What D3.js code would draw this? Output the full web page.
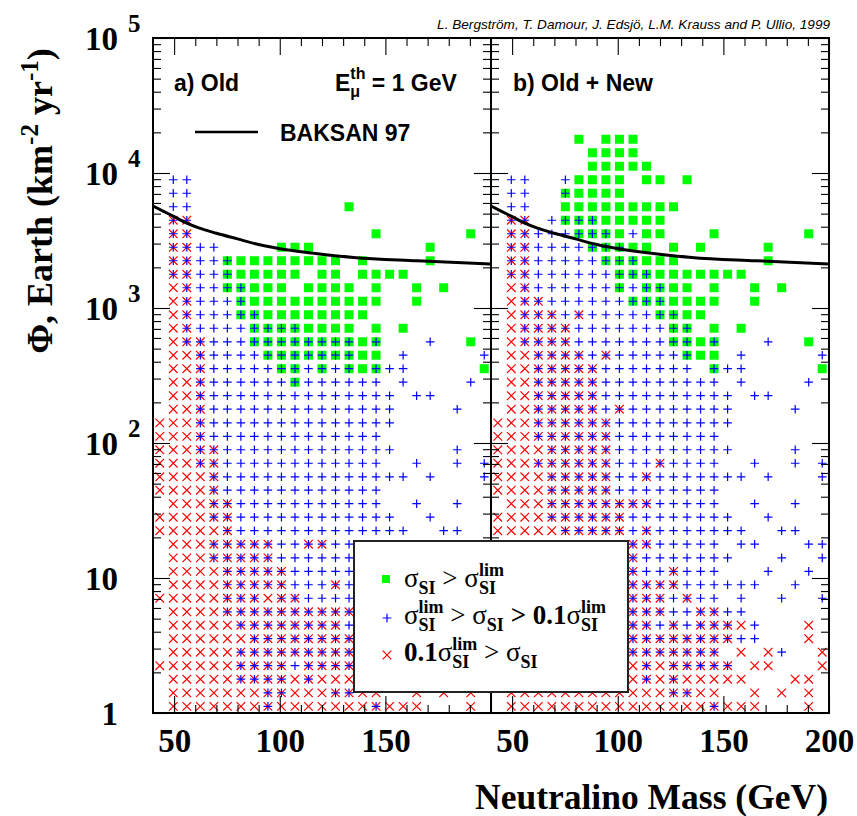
<!DOCTYPE html>
<html lang="en">
<head>
<meta charset="utf-8">
<title>Neutralino flux from the Earth</title>
<script src="https://d3js.org/d3.v7.min.js"></script>
<style>
body { margin: 0; background: #fff; }
text { white-space: pre; }
</style>
</head>
<body>
<div id="chart"></div>
<script>

// mass bin centres (GeV), one per grid column
var massBins = [43.2, 49.6, 56.0, 62.4, 68.8, 75.2, 81.6, 88.0, 94.4, 100.8, 107.2, 113.6, 120.0,
  126.4, 132.8, 139.2, 145.6, 152.0, 158.4, 164.8, 171.2, 177.6, 184.0, 190.4, 196.8];

// flux bin centres (km^-2 yr^-1), bottom row first
var fluxBins = [1.12, 1.41, 1.78, 2.24, 2.82, 3.55, 4.47, 5.62, 7.08, 8.91,
  11.2, 14.1, 17.8, 22.4, 28.2, 35.5, 44.7, 56.2, 70.8, 89.1,
  112, 141, 178, 224, 282, 355, 447, 562, 708, 891,
  1122, 1413, 1778, 2239, 2818, 3548, 4467, 5623, 7079, 8913,
  11220, 14125, 17783];

// grid rows, top row first
// . none, g green, G green + blue, + blue, x red, * red + blue
var oldRows = [
  ".........................",
  ".........................",
  ".........................",
  ".++......................",
  ".++......................",
  ".++...........g..........",
  ".**......................",
  ".**.............g......g.",
  ".**++....ggg........g....",
  ".**++Ggggggggg.g....g....",
  ".**++Gggggg.gg.gggg......",
  ".x*++GGggg.gggg.g..g.g...",
  ".x*+++Ggggggggggg..g.....",
  ".x*+++GGgggggggg.........",
  ".x*++++GGGGgggg.g.g......",
  ".x**+++GGGGGGGGgG...+..g.",
  ".xx*++++GGGGGGGgg.+.....+",
  ".xx*+++++GG+G+GgG++.....g",
  ".xx*++++++G++++++.+....+.",
  ".xx*++++++++++++++.++....",
  ".xx*++++++++++++++....+..",
  "xxx*++++++++++++++.......",
  "xxx*+++++++++++++........",
  "xxx**+++++++++++++....+..",
  "xxx**++++++++++++..+..+.+",
  "xxxx*++++++++++++++.+...+",
  "xxxx*++++++++++++........",
  ".xxx**+++++++++++..+..+..",
  "xxxx**++++++++++++..+....",
  "xxxxx*+++++++++++++..++..",
  ".xxx*****++**++..........",
  ".xxx*****++++++..........",
  ".xxxx*****+++++..........",
  ".xxxx*****+++*+..........",
  "xxxxx***x**++++..........",
  ".xxxx**********..........",
  ".xxxxx********+..........",
  ".xxxxxx********..........",
  ".xxxxx*********..........",
  "xxxxxx****+****..........",
  ".xxxxx****x*xxx..........",
  ".xxxxxxx**xxx**xx..x.x.x.",
  ".xxxxxxx*xxxxxxx*xxx...x."
];

var newRows = [
  "......g.ggg..............",
  ".......gggg..............",
  ".......ggggg.............",
  ".++..+gggg.gg.g..........",
  ".++..Ggggg...............",
  ".++..ggggggggg...........",
  ".**.+GGGggggg............",
  ".**+++GGGg+gg...g......g.",
  ".**++++GGGgg.g.g....g....",
  ".**+++++GGGggg......g....",
  ".**++++++GGGggggggg......",
  ".x*++++++G+GGgg.g..g.g...",
  ".x**++++++GGGgggg..g.....",
  ".x***+*+++++GGgg.........",
  ".x****+++++++GG.g.g......",
  ".x****+++++++GGgG...+..g.",
  ".xx****+*+++++Ggg.+.....+",
  ".xx*****+++++++.G++.....g",
  ".xx*****+++++++++.+....+.",
  ".xx*****++++++++++.++....",
  ".xx*****+*++++++++....+..",
  "xxx******+++++++++.......",
  "xxx******++++++++........",
  "xxxx*****+++++++++....+..",
  "xxx******+++*++++..+..+.+",
  "xxxx*****++*+++++++.+...+",
  "xxxx*****++++++++........",
  ".xxx********+++++..+..+..",
  "xxxx******++++++++..+....",
  "xxxxx*****+*+++++++..++..",
  "..........**+++++.++...++",
  "..........*+++++++...+..+",
  "..........*++*+++...+..+.",
  "..........****++++++..+..",
  "..........***+*++.+..+..+",
  "..........***++**++......",
  "..........**+*+***x+...x.",
  "..........********++...x.",
  "..........*******.x.x+..x",
  "..........x*x*****.xx...x",
  "..........x*x*xxxxx...xx.",
  ".xxxxxxxxxxxx**xx..x.x.x.",
  ".xxxxxxxxxxxxxxx*xxx...x."
];

// BAKSAN 97 limit
var baksanMass = [40, 45, 50, 56, 62, 70, 80, 90, 100, 115, 135, 165, 200];
var baksanFlux = [5700, 5200, 4750, 4250, 3900, 3580, 3250, 2950, 2750, 2560, 2370, 2240, 2120];

var xMajorA = [50, 100, 150];
var xMajorB = [50, 100, 150, 200];
var xMajorAll = [50, 100, 150, 200];
var xMinor = [60, 70, 80, 90, 110, 120, 130, 140, 160, 170, 180, 190];
var yDecades = [1, 10, 100, 1000, 10000, 100000];
var yBase = ["1", "10", "10", "10", "10", "10"];
var yExp = ["", "", "2", "3", "4", "5"];

var width = 857, height = 816;
var top_ = 38, bottom = 713;
var serif = "'Liberation Serif', 'Times New Roman', serif";
var sans = "'Liberation Sans', Arial, Helvetica, sans-serif";

var svg = d3.select("#chart").append("svg")
  .attr("width", width)
  .attr("height", height);

var y = d3.scaleLog().domain([1, 1e5]).range([bottom, top_]);
var yMinor = y.ticks().filter(function(v) { return yDecades.indexOf(v) < 0; });

var panels = [
  {rows: oldRows, x: d3.scaleLinear().domain([40, 200]).range([153, 491]), labels: xMajorA},
  {rows: newRows, x: d3.scaleLinear().domain([40, 200]).range([491, 829]), labels: xMajorB}
];

panels.forEach(function(p, k) {
  var x = p.x;
  var x0 = x.range()[0], x1 = x.range()[1];
  var g = svg.append("g");

  // cells
  var cells = [];
  p.rows.forEach(function(row, r) {
    var j = p.rows.length - 1 - r;
    row.split("").forEach(function(c, i) {
      if (c !== ".") cells.push({m: massBins[i], f: fluxBins[j], c: c});
    });
  });

  g.selectAll("rect.sq")
    .data(cells.filter(function(d) { return d.c === "g" || d.c === "G"; }))
    .enter().append("rect")
      .attr("class", "sq")
      .attr("x", function(d) { return x(d.m) - 4.5; })
      .attr("y", function(d) { return y(d.f) - 4.5; })
      .attr("width", 9)
      .attr("height", 9)
      .attr("fill", "#00ff00");

  g.selectAll("path.rx")
    .data(cells.filter(function(d) { return d.c === "x" || d.c === "*"; }))
    .enter().append("path")
      .attr("class", "rx")
      .attr("transform", function(d) { return "translate(" + x(d.m) + "," + y(d.f) + ")"; })
      .attr("d", "M-4.3,-4.3L4.3,4.3M-4.3,4.3L4.3,-4.3")
      .attr("stroke", "#ff0000")
      .attr("stroke-width", 1.2)
      .attr("fill", "none");

  g.selectAll("path.bp")
    .data(cells.filter(function(d) { return d.c === "+" || d.c === "*" || d.c === "G"; }))
    .enter().append("path")
      .attr("class", "bp")
      .attr("transform", function(d) { return "translate(" + x(d.m) + "," + y(d.f) + ")"; })
      .attr("d", "M-4.3,0H4.3M0,-4.3V4.3")
      .attr("stroke", "#0000ff")
      .attr("stroke-width", 1.2)
      .attr("fill", "none");

  // BAKSAN curve
  var line = d3.line()
    .x(function(d) { return x(d[0]); })
    .y(function(d) { return y(d[1]); })
    .curve(d3.curveMonotoneX);
  g.append("path")
    .datum(baksanMass.map(function(m, i) { return [m, baksanFlux[i]]; }))
    .attr("d", line)
    .attr("fill", "none")
    .attr("stroke", "#000")
    .attr("stroke-width", 3);

  // ticks
  function tidy(sel) {
    sel.select(".domain").remove();
    sel.selectAll(".tick line").attr("stroke", "#000").attr("stroke-width", 1.1);
  }
  svg.append("g").attr("transform", "translate(0," + bottom + ")")
    .call(d3.axisBottom(x).tickValues(xMinor).tickSize(-8).tickFormat(""))
    .call(tidy);
  svg.append("g").attr("transform", "translate(0," + top_ + ")")
    .call(d3.axisTop(x).tickValues(xMinor).tickSize(-8).tickFormat(""))
    .call(tidy);
  svg.append("g").attr("transform", "translate(0," + top_ + ")")
    .call(d3.axisTop(x).tickValues(xMajorAll).tickSize(-17).tickFormat(""))
    .call(tidy);
  var xb = svg.append("g").attr("transform", "translate(0," + bottom + ")")
    .call(d3.axisBottom(x).tickValues(xMajorAll).tickSize(-17).tickPadding(16)
      .tickFormat(function(v) { return p.labels.indexOf(v) >= 0 ? v : ""; }))
    .call(tidy);
  xb.selectAll("text")
    .attr("font-family", serif)
    .attr("font-weight", "bold")
    .attr("font-size", 33)
    .attr("fill", "#000");

  [[d3.axisLeft, x0], [d3.axisRight, x1]].forEach(function(a) {
    svg.append("g").attr("transform", "translate(" + a[1] + ",0)")
      .call(a[0](y).tickValues(yMinor).tickSize(-8).tickFormat(""))
      .call(tidy);
    svg.append("g").attr("transform", "translate(" + a[1] + ",0)")
      .call(a[0](y).tickValues(yDecades).tickSize(-17).tickFormat(""))
      .call(tidy);
  });

  // frame
  svg.append("rect")
    .attr("x", x0).attr("y", top_)
    .attr("width", x1 - x0).attr("height", bottom - top_)
    .attr("fill", "none")
    .attr("stroke", "#000")
    .attr("stroke-width", 2);
});

// text made of pieces with sub/superscripts
function richText(x0, y0, parts, font) {
  var x = x0, stackW = 0;
  parts.forEach(function(q) {
    var t = svg.append("text")
      .attr("x", x)
      .attr("y", y0 + (q.dy || 0))
      .attr("font-family", font)
      .attr("font-weight", q.w || "bold")
      .attr("font-size", q.s)
      .attr("fill", "#000")
      .text(q.t);
    var w = t.node().getComputedTextLength();
    if (q.stack) {
      stackW = w;
    } else {
      x += Math.max(w, stackW);
      stackW = 0;
    }
  });
}

// y labels
var yl = svg.append("g");
yDecades.forEach(function(v, i) {
  yl.append("text")
    .attr("x", 118)
    .attr("y", y(v) + 12)
    .attr("text-anchor", "end")
    .attr("font-family", serif)
    .attr("font-weight", "bold")
    .attr("font-size", 33)
    .text(yBase[i]);
  yl.append("text")
    .attr("x", 128)
    .attr("y", y(v) - 6)
    .attr("font-family", serif)
    .attr("font-weight", "bold")
    .attr("font-size", 25)
    .text(yExp[i]);
});

// axis titles
var yt = svg.append("text")
  .attr("transform", "translate(52,201) rotate(-90)")
  .attr("text-anchor", "middle")
  .attr("font-family", serif)
  .attr("font-weight", "bold")
  .attr("font-size", 36);
yt.append("tspan").text("\u03a6, Earth (km");
yt.append("tspan").attr("font-size", 25).attr("dy", -14).text("-2");
yt.append("tspan").attr("dy", 14).text(" yr");
yt.append("tspan").attr("font-size", 25).attr("dy", -14).text("-1");
yt.append("tspan").attr("dy", 14).text(")");

svg.append("text")
  .attr("x", 828)
  .attr("y", 809)
  .attr("text-anchor", "end")
  .attr("font-family", serif)
  .attr("font-weight", "bold")
  .attr("font-size", 35.5)
  .text("Neutralino Mass (GeV)");

// credit line
svg.append("text")
  .attr("x", 830)
  .attr("y", 29)
  .attr("text-anchor", "end")
  .attr("font-family", sans)
  .attr("font-style", "italic")
  .attr("font-size", 13.6)
  .text("L. Bergstr\u00f6m, T. Damour, J. Edsj\u00f6, L.M. Krauss and P. Ullio, 1999");

// panel labels
svg.append("text").attr("x", 174).attr("y", 91)
  .attr("font-family", sans).attr("font-weight", "bold").attr("font-size", 23)
  .text("a) Old");
svg.append("text").attr("x", 513).attr("y", 91)
  .attr("font-family", sans).attr("font-weight", "bold").attr("font-size", 23)
  .text("b) Old + New");
richText(335, 91, [
  {t: "E", s: 23},
  {t: "th", s: 16, dy: -12, stack: true},
  {t: "\u03bc", s: 16, dy: 6},
  {t: " = 1 GeV", s: 23}
], sans);

// BAKSAN key
svg.append("line")
  .attr("x1", 195).attr("x2", 258).attr("y1", 132).attr("y2", 132)
  .attr("stroke", "#000").attr("stroke-width", 2.5);
svg.append("text").attr("x", 280).attr("y", 141)
  .attr("font-family", sans).attr("font-weight", "bold").attr("font-size", 23)
  .text("BAKSAN 97");

// legend
svg.append("rect")
  .attr("x", 354).attr("y", 541)
  .attr("width", 274).attr("height", 151)
  .attr("fill", "#fff")
  .attr("stroke", "#222")
  .attr("stroke-width", 2);
svg.append("rect")
  .attr("x", 382).attr("y", 575).attr("width", 8).attr("height", 8)
  .attr("fill", "#00ff00");
svg.append("path")
  .attr("transform", "translate(387,618)")
  .attr("d", "M-4.3,0H4.3M0,-4.3V4.3")
  .attr("stroke", "#0000ff").attr("stroke-width", 1.2);
svg.append("path")
  .attr("transform", "translate(387,655)")
  .attr("d", "M-4.3,-4.3L4.3,4.3M-4.3,4.3L4.3,-4.3")
  .attr("stroke", "#ff0000").attr("stroke-width", 1.2);

var M = 27, S = 18;
richText(404, 587, [
  {t: "\u03c3", s: M, w: "normal"},
  {t: "SI", s: S, dy: 7},
  {t: " > \u03c3", s: M, w: "normal"},
  {t: "lim", s: S, dy: -11, stack: true},
  {t: "SI", s: S, dy: 7}
], serif);
richText(404, 624, [
  {t: "\u03c3", s: M, w: "normal"},
  {t: "lim", s: S, dy: -11, stack: true},
  {t: "SI", s: S, dy: 7},
  {t: " > \u03c3", s: M, w: "normal"},
  {t: "SI", s: S, dy: 7},
  {t: " > 0.1", s: M},
  {t: "\u03c3", s: M, w: "normal"},
  {t: "lim", s: S, dy: -11, stack: true},
  {t: "SI", s: S, dy: 7}
], serif);
richText(404, 661, [
  {t: "0.1", s: M},
  {t: "\u03c3", s: M, w: "normal"},
  {t: "lim", s: S, dy: -11, stack: true},
  {t: "SI", s: S, dy: 7},
  {t: " > \u03c3", s: M, w: "normal"},
  {t: "SI", s: S, dy: 7}
], serif);

</script>
</body>
</html>
